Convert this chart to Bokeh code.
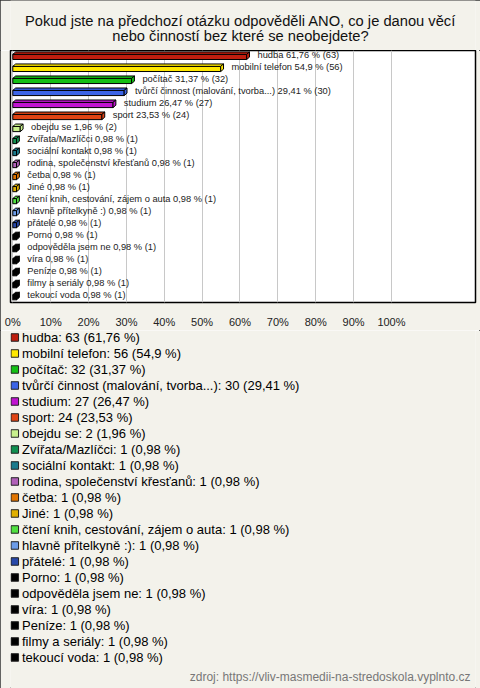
from bokeh.plotting import figure
from bokeh.layouts import column
from bokeh.models import (Range1d, ColumnDataSource, Label, FixedTicker,
                          CustomJSTickFormatter)
from bokeh.embed import file_html
from bokeh.resources import INLINE
from bokeh.core.properties import value

# ---------------- data ----------------
categories = ["hudba", "mobilní telefon", "počítač", "tvůrčí činnost (malování, tvorba...)",
              "studium", "sport", "obejdu se", "Zvířata/Mazlíčci", "sociální kontakt",
              "rodina, společenství křesťanů", "četba", "Jiné",
              "čtení knih, cestování, zájem o auta", "hlavně přítelkyně :)", "přátelé",
              "Porno", "odpověděla jsem ne", "víra", "Peníze", "filmy a seriály", "tekoucí voda"]
counts = [63, 56, 32, 30, 27, 24, 2, 1, 1, 1, 1, 1, 1, 1, 1, 1, 1, 1, 1, 1, 1]
percents = [61.76, 54.9, 31.37, 29.41, 26.47, 23.53, 1.96, 0.98, 0.98, 0.98, 0.98, 0.98,
            0.98, 0.98, 0.98, 0.98, 0.98, 0.98, 0.98, 0.98, 0.98]
colors = ["#BE1E0F", "#FFE800", "#14C014", "#3C64E6", "#C014D0", "#E04414", "#C8F08C",
          "#109050", "#1A7A8C", "#B060B8", "#E07400", "#E0B000", "#50E040", "#6C9CE8",
          "#2848A8", "#000000", "#000000", "#000000", "#000000", "#000000", "#000000"]
tick_values = [0, 10, 20, 30, 40, 50, 60, 70, 80, 90, 100]
title_lines = ["Pokud jste na předchozí otázku odpověděli ANO, co je danou věcí",
               "nebo činností bez které se neobejdete?"]
source_text = "zdroj: https://vliv-masmedii-na-stredoskola.vyplnto.cz"

# ---------------- styling ----------------
W = 480
H0, H1, H2 = 50, 280, 358      # title band, chart, legend band
FL, FR = 10, 475               # frame left / right (page px), shared by all bands
BG = "#F3F2EB"
FONT = "Liberation Sans"
dx = 0.75      # 3D depth in percent units
dy = 0.2       # 3D depth in row units
ftop, fbot = -0.1, 0.33

def fmt(p):
    return f"{p:g}".replace(".", ",")

def band(height, yr, **kw):
    f = figure(width=W, height=height, output_backend="svg", toolbar_location=None,
               x_range=Range1d(FL, FR), y_range=yr, min_border_left=FL,
               min_border_right=W - FR, min_border_top=0, min_border_bottom=0, **kw)
    f.axis.visible = False
    f.grid.visible = False
    f.outline_line_color = None
    f.border_fill_color = BG
    f.background_fill_color = BG
    return f

# ---------------- title band ----------------
t = band(H0, Range1d(H0, 0))
for line, ypage in zip(title_lines, [20, 35]):
    t.add_layout(Label(x=240 - FL, y=H0 - ypage, x_units="screen", y_units="screen",
                       text=line, text_align="center", text_baseline="middle",
                       text_font=FONT, text_font_size="14.7px", text_color="#111111"))

# ---------------- chart ----------------
rows = list(range(len(categories)))
front = ColumnDataSource(dict(
    left=[0] * len(rows), right=percents,
    top=[r + ftop for r in rows], bottom=[r + fbot for r in rows],
    color=colors))
top_xs, top_ys, side_xs, side_ys = [], [], [], []
for r, v in zip(rows, percents):
    tt, b = r + ftop, r + fbot
    top_xs.append([0, v, v + dx, dx]); top_ys.append([tt, tt, tt - dy, tt - dy])
    side_xs.append([v, v + dx, v + dx, v]); side_ys.append([tt, tt - dy, b - dy, b])
top_src = ColumnDataSource(dict(xs=top_xs, ys=top_ys, color=colors))
side_src = ColumnDataSource(dict(xs=side_xs, ys=side_ys, color=colors))
lab_src = ColumnDataSource(dict(
    x=[v + dx for v in percents], y=rows,
    text=[f"{c} {fmt(p)} % ({n})" for c, p, n in zip(categories, percents, counts)]))

frame_h = 302 - H0
p = figure(width=W, height=H1, output_backend="svg", toolbar_location=None,
           x_range=Range1d(-0.61, 122.2), y_range=Range1d(20.55, -0.42),
           min_border_left=FL, min_border_right=W - FR, min_border_top=0,
           min_border_bottom=H1 - frame_h)
p.border_fill_color = BG
p.background_fill_color = "white"
p.outline_line_color = "black"
p.outline_line_width = 1.5

p.yaxis.visible = False
p.ygrid.visible = False
p.xgrid.ticker = FixedTicker(ticks=tick_values)
p.xgrid.grid_line_color = "#C8C8C8"
p.xaxis.ticker = FixedTicker(ticks=tick_values)
p.xaxis.formatter = CustomJSTickFormatter(code="return tick + '%';")
p.xaxis.axis_line_color = None
p.xaxis.major_tick_line_color = None
p.xaxis.minor_tick_line_color = None
p.xaxis.major_label_standoff = 7
p.xaxis.major_label_text_font = FONT
p.xaxis.major_label_text_font_size = "11px"
p.xaxis.major_label_text_color = "#222222"

p.quad(left="left", right="right", top="top", bottom="bottom", source=front,
       fill_color="color", line_color="black", line_width=1)
p.patches("xs", "ys", source=top_src, fill_color="color", line_color="black", line_width=1)
p.patches("xs", "ys", source=side_src, fill_color="color", line_color="black", line_width=1)
p.text(x="x", y="y", text="text", source=lab_src, x_offset=8, y_offset=-1,
       text_font=value(FONT), text_font_size="9.3px", text_color="#222222",
       text_baseline="middle", text_align="left")

# ---------------- legend band ----------------
leg_src = ColumnDataSource(dict(
    x=[14.3] * len(rows), tx=[21.5] * len(rows), y=rows, color=colors,
    text=[f"{c}: {n} ({fmt(pc)} %)" for c, n, pc in zip(categories, counts, percents)]))
q = band(H2, Range1d(21.94, -0.4375))
q.scatter(x="x", y="y", source=leg_src, marker="square", size=7.5, fill_color="color",
          line_color="#222222", line_width=1)
q.text(x="tx", y="y", text="text", source=leg_src, text_font=value(FONT),
       text_font_size="13px", text_color="#000000", text_baseline="middle",
       text_align="left")
q.add_layout(Label(x=470 - FL, y=H2 - 346, x_units="screen", y_units="screen",
                   text=source_text, text_align="right", text_baseline="middle",
                   text_font=FONT, text_font_size="12px", text_color="#777777"))

layout = column(t, p, q, spacing=0,
                styles={"outline": "1px solid #333333", "outline-offset": "-1px"})
open("out.html", "w").write(file_html(layout, INLINE))
